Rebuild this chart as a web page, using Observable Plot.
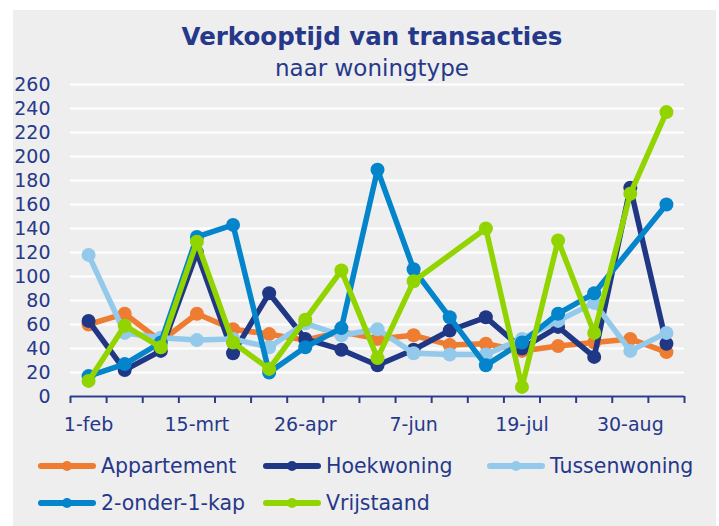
<!DOCTYPE html>
<html>
<head>
<meta charset="utf-8">
<script src="https://cdn.jsdelivr.net/npm/d3@7"></script>
<script src="https://cdn.jsdelivr.net/npm/@observablehq/plot@0.6"></script>
<style>
  html, body { margin: 0; padding: 0; background: #ffffff; }
  #page { position: relative; width: 719px; height: 526px; overflow: hidden; font-family: "DejaVu Sans", sans-serif; color: #26388a; }
  #panel { position: absolute; left: 13px; top: 10px; width: 703px; height: 516px; background: #eeeeee; }
  #title { position: absolute; left: 0; width: 744px; top: 23px; text-align: center; font-weight: bold; font-size: 24.5px; line-height: 28px; }
  #subtitle { position: absolute; left: 0; width: 744px; top: 55px; text-align: center; font-size: 23px; line-height: 26px; }
  #chart { position: absolute; left: 0; top: 80px; }
  .leg { position: absolute; display: flex; align-items: center; font-size: 20.5px; height: 26px; white-space: nowrap; }
  .leg svg { margin-right: 5px; }
</style>
</head>
<body>
<div id="page">
  <div id="panel"></div>
  <div id="title">Verkooptijd van transacties</div>
  <div id="subtitle">naar woningtype</div>
  <div id="chart"></div>
  <div id="legend"></div>
</div>
<script>
// ---- data ----
const dates = ["1-feb","15-feb","1-mrt","15-mrt","29-mrt","12-apr","26-apr","10-mei","24-mei","7-jun","21-jun","5-jul","19-jul","2-aug","16-aug","30-aug","13-sep"];
const xTickLabels = ["1-feb","15-mrt","26-apr","7-jun","19-jul","30-aug"];
const yTicks = [0,20,40,60,80,100,120,140,160,180,200,220,240,260];

const seriesNames = ["Appartement","Hoekwoning","Tussenwoning","2-onder-1-kap","Vrijstaand"];
const seriesColors = ["#ee7d31","#203786","#93c9ea","#0384cb","#92d400"];

const appartement   = [60, 69, 46, 69, 56, 52, 47, 54, 48, 51, 43, 44, 38, 42, 45, 48, 37];
const hoekwoning    = [63, 22, 38, 120, 36, 86, 48, 39, 26, 39, 55, 66, 40, 58, 33, 174, 44];
const tussenwoning  = [118, 53, 49, 47, 48, 41, 61, 51, 56, 36, 35, 35, 48, 63, 78, 38, 53];
const tweeOnder1Kap = [17, 27, 45, 133, 143, 20, 41, 57, 189, 106, 66, 26, 45, 69, 86, null, 160];
const vrijstaand    = [13, 59, 41, 129, 45, 23, 64, 105, 32, 96, null, 140, 8, 130, 53, 169, 237];

const seriesValues = [appartement, hoekwoning, tussenwoning, tweeOnder1Kap, vrijstaand];

// ---- build table ----
const table = [];
seriesNames.forEach((name, k) => {
  seriesValues[k].forEach((v, i) => {
    if (v != null) table.push({series: name, i, date: dates[i], v});
  });
});

const textColor = "#26388a";
const axisColor = "#2a3c8c";
const labelIdx = xTickLabels.map(l => dates.indexOf(l));
const boundaries = dates.map((d, i) => i - 0.5).concat([dates.length - 0.5]);

const seriesMarks = [];
seriesNames.forEach((name, k) => {
  const rows = table.filter(d => d.series === name);
  seriesMarks.push(Plot.line(rows, {x: "i", y: "v", stroke: seriesColors[k], strokeWidth: 5.5, strokeLinejoin: "round", strokeLinecap: "round"}));
  seriesMarks.push(Plot.dot(rows, {x: "i", y: "v", r: 7, fill: seriesColors[k], stroke: null}));
});

const chart = Plot.plot({
  width: 719,
  height: 360,
  marginLeft: 70,
  marginRight: 35,
  marginTop: 4,
  marginBottom: 44,
  x: {domain: [-0.5, dates.length - 0.5]},
  y: {domain: [0, 260]},
  style: {background: "transparent", fontFamily: "DejaVu Sans, sans-serif", fontSize: "19px", color: textColor, overflow: "visible"},
  marks: [
    Plot.gridY({ticks: yTicks, stroke: "#ffffff", strokeOpacity: 1, strokeWidth: 2}),
    Plot.axisY({ticks: yTicks, tickSize: 0, tickPadding: 20, label: null, fontSize: 19, letterSpacing: "-0.4px"}),
    Plot.axisX({ticks: boundaries, tickSize: 7, tickFormat: () => "", stroke: axisColor, strokeWidth: 2, label: null}),
    Plot.axisX({ticks: labelIdx, tickSize: 0, tickPadding: 21, tickFormat: i => dates[i], label: null, fontSize: 19}),
    Plot.ruleY([0], {stroke: axisColor, strokeWidth: 2}),
    ...seriesMarks
  ]
});
document.getElementById("chart").appendChild(chart);

// ---- legend ----
const legendPos = [
  {x: 38, y: 453}, {x: 263, y: 453}, {x: 487, y: 453},
  {x: 38, y: 490}, {x: 263, y: 490}
];
const legend = document.getElementById("legend");
seriesNames.forEach((name, k) => {
  const item = document.createElement("div");
  item.className = "leg";
  item.style.left = legendPos[k].x + "px";
  item.style.top = legendPos[k].y + "px";
  const c = seriesColors[k];
  item.innerHTML = `<svg width="58" height="14"><line x1="3" y1="7" x2="55" y2="7" stroke="${c}" stroke-width="6" stroke-linecap="round"/><circle cx="29" cy="7" r="5" fill="${c}"/></svg><span>${name}</span>`;
  legend.appendChild(item);
});
</script>
</body>
</html>
